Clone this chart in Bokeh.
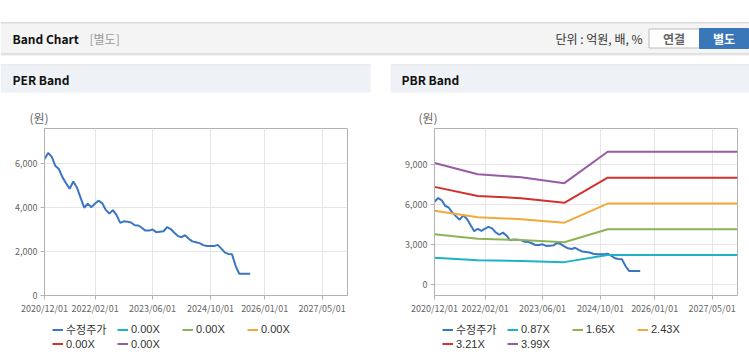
import pandas as pd
from bokeh.plotting import figure
from bokeh.layouts import column, row
from bokeh.models import (Range1d, FixedTicker, DatetimeTickFormatter, NumeralTickFormatter,
                          Legend, LegendItem, Spacer)
from bokeh.core.properties import value
from bokeh.embed import file_html
from bokeh.resources import INLINE

# ---------------- data ----------------
price_start = "2020-12-01"
price_values = [6200, 6480, 6300, 5900, 5750, 5380, 5100, 4850, 5180, 4900,
                4450, 3990, 4170, 4015, 4180, 4310, 4200, 3900, 3720, 3880,
                3650, 3300, 3370, 3350, 3320, 3190, 3180, 3080, 2950, 2950,
                3000, 2880, 2900, 2920, 3110, 3020, 2850, 2700, 2650, 2740,
                2580, 2460, 2420, 2380, 2290, 2250, 2245, 2245, 2300, 2130,
                1950, 1890, 1870, 1350, 990, 990, 990, 990]
price_dates = pd.date_range(price_start, periods=len(price_values), freq="MS")

band_dates = pd.to_datetime(["2020-12-01", "2021-12-01", "2022-12-01",
                             "2023-12-01", "2024-12-01", "2027-12-01"])
band_087 = [1980, 1800, 1750, 1660, 2190, 2190]
band_165 = [3760, 3420, 3320, 3150, 4130, 4130]
band_243 = [5530, 5030, 4890, 4630, 6060, 6060]
band_321 = [7320, 6640, 6470, 6120, 8010, 8010]
band_399 = [9110, 8270, 8040, 7600, 9960, 9960]
pbr_labels = ["0.87X", "1.65X", "2.43X", "3.21X", "3.99X"]
per_labels = ["0.00X", "0.00X", "0.00X", "0.00X", "0.00X"]
price_label = "수정주가"

x_tick_labels = ["2020/12/01", "2022/02/01", "2023/06/01", "2024/10/01", "2026/01/01", "2027/05/01"]
x_start, x_end = "2020-12-01", "2027-12-01"
per_y_ticks = [0, 2000, 4000, 6000]
pbr_y_ticks = [0, 3000, 6000, 9000]
per_y_range = (0, 7590)
pbr_y_range = (-850, 11710)

price_color = "#3a76c4"
band_colors = ["#1fb2c4", "#8db355", "#f2a93b", "#d1332c", "#985ca5"]

FONT = "Noto Sans CJK KR"
LEG_FONT = "'Liberation Sans', 'Noto Sans CJK KR'"
W = 749
HEAD_H = 125
LEG_H = 43
STRIP_H = 2

# ---------------- header (page bar + panel title bars) ----------------
hd = figure(width=W, height=HEAD_H, x_range=Range1d(0, W), y_range=Range1d(HEAD_H, 0),
            x_axis_type=None, y_axis_type=None, output_backend="svg", toolbar_location=None,
            min_border=0)
hd.grid.visible = False
hd.outline_line_color = None
hd.quad(left=[0, 0, 0, 0, 0, 0, 390, 390], right=[W, W, W, W, 370, 370, W, W],
        top=[22, 23, 53, 54, 64, 65, 64, 65], bottom=[23, 53, 54, 55, 65, 92, 65, 92],
        fill_color=["#b9b9b9", "#f4f4f4", "#c4c4c4", "#e8e8e8", "#d9d9d9", "#eef2f7", "#d9d9d9", "#eef2f7"],
        line_color=None)
# buttons
hd.quad(left=[648.5], right=[699], top=[28.5], bottom=[47.5], fill_color="white", line_color="#bdbdbd")
hd.quad(left=[699], right=[748], top=[28], bottom=[48], fill_color="#3a77b8", line_color="#3a77b8")

def htext(x, y, t, size, color, bold=False, align="left"):
    hd.text(x=[x], y=[y], text=[t], text_font=value(FONT), text_font_size=size,
            text_font_style="bold" if bold else "normal", text_color=color,
            text_baseline="middle", text_align=align)

htext(12, 38, "Band Chart", "12px", "#111111", bold=True)
htext(89, 38, "[별도]", "12px", "#999999")
htext(642, 38, "단위 : 억원, 배, %", "12px", "#333333", align="right")
htext(673.5, 38, "연결", "12px", "#666666", bold=True, align="center")
htext(723.5, 38, "별도", "12px", "#ffffff", bold=True, align="center")
htext(12, 79, "PER Band", "12px", "#111111", bold=True)
htext(401, 79, "PBR Band", "12px", "#111111", bold=True)
htext(29, 117, "(원)", "12px", "#666666")
htext(418, 117, "(원)", "12px", "#666666")


# ---------------- charts ----------------
def make_chart(right_border, yr, yticks, bands):
    p = figure(frame_width=303, frame_height=167, x_axis_type="datetime",
               x_range=Range1d(pd.Timestamp(x_start), pd.Timestamp(x_end)),
               y_range=Range1d(*yr), output_backend="svg", toolbar_location=None,
               min_border_left=44, min_border_right=right_border,
               min_border_top=3, min_border_bottom=24)
    p.outline_line_color = "#b3b3b3"
    p.grid.grid_line_color = "#e6e6e6"
    ticks_ms = [int(pd.Timestamp(d.replace("/", "-")).value // 10**6) for d in x_tick_labels]
    p.xaxis.ticker = FixedTicker(ticks=ticks_ms)
    fmt = "%Y/%m/%d"
    p.xaxis.formatter = DatetimeTickFormatter(milliseconds=fmt, seconds=fmt, minsec=fmt, minutes=fmt,
                                              hourmin=fmt, hours=fmt, days=fmt, months=fmt, years=fmt)
    p.yaxis.ticker = FixedTicker(ticks=yticks)
    p.yaxis.formatter = NumeralTickFormatter(format="0,0")
    for ax in (p.xaxis[0], p.yaxis[0]):
        ax.axis_line_color = "#b3b3b3"
        ax.major_tick_line_color = "#b3b3b3"
        ax.major_tick_in = 0
        ax.major_tick_out = 4
        ax.minor_tick_line_color = None
        ax.major_label_text_font = FONT
        ax.major_label_text_font_size = "9px"
        ax.major_label_text_color = "#666666"
    p.xaxis.major_label_standoff = 2
    p.yaxis.major_label_standoff = 3

    p.line(price_dates, price_values, line_color=price_color, line_width=2)
    for vals, col in zip(bands, band_colors):
        if vals is not None:
            p.line(band_dates, vals, line_color=col, line_width=2)
    return p


def make_legend(width, right_border, labels):
    lg = figure(width=width, height=LEG_H, x_range=Range1d(0, 1), y_range=Range1d(0, 1),
                x_axis_type=None, y_axis_type=None, output_backend="svg", toolbar_location=None,
                min_border_left=44, min_border_top=0, min_border_right=right_border,
                min_border_bottom=0)
    lg.grid.visible = False
    lg.outline_line_color = None
    # legend proxies (drawn outside the visible range)
    rs = [lg.line(x=[0, 1], y=[5, 5], line_color=c, line_width=2) for c in [price_color] + band_colors]
    items = [LegendItem(label=value(lbl), renderers=[r])
             for lbl, r in zip([price_label] + labels, rs)]
    leg = Legend(items=items, location=(8, 12), orientation="horizontal", ncols=4,
                 glyph_width=11, glyph_height=13, label_standoff=3, label_width=51,
                 label_height=13, spacing=0, padding=0, margin=0,
                 border_line_color=None, background_fill_alpha=0,
                 label_text_font=LEG_FONT, label_text_font_size="11px", label_text_color="#333333")
    lg.add_layout(leg, "center")
    return lg

per = make_chart(23, per_y_range, per_y_ticks, [None] * 5)
pbr = make_chart(12, pbr_y_range, pbr_y_ticks,
                 [band_087, band_165, band_243, band_321, band_399])
per_leg = make_legend(370, 23, per_labels)
pbr_leg = make_legend(359, 12, pbr_labels)

# bottom border strip
st = figure(width=W, height=STRIP_H, x_range=Range1d(0, W), y_range=Range1d(0, STRIP_H),
            x_axis_type=None, y_axis_type=None, output_backend="svg", toolbar_location=None,
            min_border=0)
st.grid.visible = False
st.outline_line_color = None
st.quad(left=[0, 390], right=[370, W], bottom=[0, 0], top=[STRIP_H, STRIP_H],
        fill_color="#dddddd", line_color=None)

layout = column(hd,
                row(column(per, per_leg), Spacer(width=20, height=10), column(pbr, pbr_leg)),
                st)
open("out.html", "w").write(file_html(layout, INLINE))
